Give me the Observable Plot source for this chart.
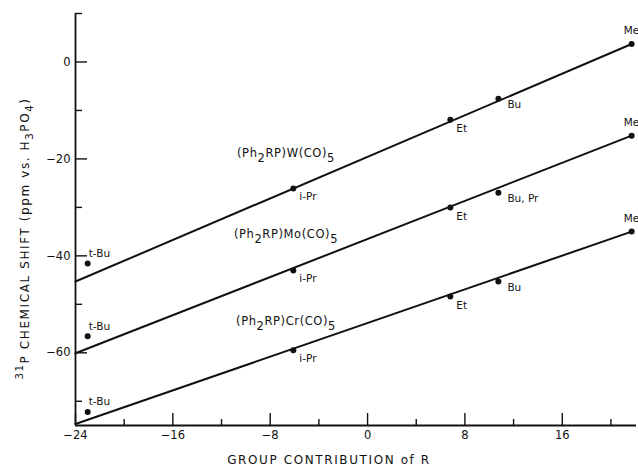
<!DOCTYPE html>
<html>
<head>
<meta charset="utf-8">
<script src="https://cdn.jsdelivr.net/npm/d3@7"></script>
<script src="https://cdn.jsdelivr.net/npm/@observablehq/plot@0.6"></script>
<style>
  html, body { margin: 0; padding: 0; background: #fff; }
  svg { overflow: visible; }
  .axlab text { letter-spacing: 1.6px; }
  .serlab text { letter-spacing: 0.6px; }
</style>
</head>
<body>
<div id="chart"></div>
<script>
// ---- data ----
const xMajorTicks = [-24, -16, -8, 0, 8, 16];
const xMinorTicks = [-20, -12, -4, 4, 12, 20];
const yMajorTicks = [-60, -40, -20, 0];
const yMinorTicks = [-70, -50, -30, -10, 10];

const groupContribution = [-23.0, -6.1, 6.8, 10.75, 21.7];
const shiftW  = [-41.6, -26.1, -11.9, -7.6, 3.7];
const shiftMo = [-56.6, -43.0, -30.0, -27.0, -15.2];
const shiftCr = [-72.2, -59.5, -48.4, -45.3, -35.0];

const labelsW  = ["t-Bu", "i-Pr", "Et", "Bu", "Me"];
const labelsMo = ["t-Bu", "i-Pr", "Et", "Bu, Pr", "Me"];
const labelsCr = ["t-Bu", "i-Pr", "Et", "Bu", "Me"];

const fitX  = [-24, 21.7];
const fitW  = [-45.3, 3.7];
const fitMo = [-60.1, -15.2];
const fitCr = [-74.7, -35.0];

const seriesNames = ["(Ph₂RP)W(CO)₅", "(Ph₂RP)Mo(CO)₅", "(Ph₂RP)Cr(CO)₅"];
const seriesLabelX = [-6.7, -6.7, -6.7];
const seriesLabelY = [-18.9, -35.6, -53.5];

const xTitle = "GROUP CONTRIBUTION of R";
const yTitle = "³¹P CHEMICAL SHIFT (ppm vs. H₃PO₄)";

// ---- tables ----
const series = [
  {name: "W", y: shiftW, labels: labelsW, fit: fitW},
  {name: "Mo", y: shiftMo, labels: labelsMo, fit: fitMo},
  {name: "Cr", y: shiftCr, labels: labelsCr, fit: fitCr}
];
const points = series.flatMap(s => groupContribution.map((x, i) => ({series: s.name, x, y: s.y[i], label: s.labels[i], i})));
const fits = series.flatMap(s => fitX.map((x, i) => ({series: s.name, x, y: s.fit[i]})));
const seriesLabels = seriesNames.map((t, i) => ({t, x: seriesLabelX[i], y: seriesLabelY[i]}));

// label offsets by ligand position
const offX = [1, 6, 6, 9, -8];
const offY = [-10, 8, 9, 6, -13];

const font = "DejaVu Sans, sans-serif";

// convert unicode sub/superscripts into shifted tspans
const SUB = ["₀","₁","₂","₃","₄","₅","₆","₇","₈","₉"];
const SUP = ["\u2070","\u00B9","\u00B2","\u00B3","\u2074","\u2075","\u2076","\u2077","\u2078","\u2079"];
function richify(textEl, subShift, supShift, scale) {
  const s = textEl.textContent;
  const segs = [];
  for (const ch of s) {
    let kind = "n", c = ch;
    if (SUB.includes(ch)) { kind = "sub"; c = String(SUB.indexOf(ch)); }
    else if (SUP.includes(ch)) { kind = "sup"; c = String(SUP.indexOf(ch)); }
    if (segs.length && segs[segs.length - 1].kind === kind) segs[segs.length - 1].t += c;
    else segs.push({kind, t: c});
  }
  const el = d3.select(textEl);
  el.text(null);
  for (const sg of segs) {
    const ts = el.append("tspan").text(sg.t);
    if (sg.kind === "sub") ts.attr("baseline-shift", -subShift).attr("font-size", (scale * 100) + "%");
    if (sg.kind === "sup") ts.attr("baseline-shift", supShift).attr("font-size", (scale * 100) + "%");
  }
}
function richRender(subShift, supShift, scale) {
  return function(index, scales, values, dims, context, next) {
    const g = next(index, scales, values, dims, context);
    d3.select(g).selectAll("text").each(function() { richify(this, subShift, supShift, scale); });
    return g;
  };
}

const chart = Plot.plot({
  width: 638,
  height: 471,
  marginLeft: 75,
  marginRight: 2,
  marginTop: 13,
  marginBottom: 46,
  style: {fontFamily: font, background: "#fff", color: "#111"},
  x: {domain: [-24, 22.1]},
  y: {domain: [-75, 10]},
  marks: [
    Plot.ruleX([-24], {stroke: "#111", strokeWidth: 1.8}),
    Plot.ruleY([-75], {stroke: "#111", strokeWidth: 1.8}),
    Plot.axisX(xMajorTicks, {tickSize: -12, tickPadding: 17, fontSize: 11.5, stroke: "#111", strokeWidth: 1.4, label: null}),
    Plot.axisX(xMinorTicks, {tickSize: -6, text: null, stroke: "#111", strokeWidth: 1.4, label: null}),
    Plot.axisY(yMajorTicks, {tickSize: -12, tickPadding: 17, fontSize: 11.5, stroke: "#111", strokeWidth: 1.4, label: null}),
    Plot.axisY(yMinorTicks, {tickSize: -7, text: null, stroke: "#111", strokeWidth: 1.4, label: null}),
    Plot.line(fits, {x: "x", y: "y", z: "series", stroke: "#111", strokeWidth: 2}),
    Plot.dot(points, {x: "x", y: "y", r: 3, fill: "#111"}),
    Plot.text(points, {x: "x", y: "y", text: "label", textAnchor: "start", fontSize: 10.5, fill: "#111",
      render(index, scales, values, dims, context, next) {
        const g = next(index, scales, values, dims, context);
        d3.select(g).selectAll("text").each(function(_, k) {
          const p = points[index[k]];
          const cur = d3.select(this).attr("transform") || "";
          d3.select(this).attr("transform", `translate(${offX[p.i]},${offY[p.i]}) ` + cur);
        });
        return g;
      }
    }),
    Plot.text(seriesLabels, {x: "x", y: "y", text: "t", fontSize: 11.5, fill: "#111", className: "serlab",
      render: richRender(5, 0, 1)}),
    Plot.text([xTitle], {frameAnchor: "bottom", textAnchor: "middle", dx: -27, dy: 38, fontSize: 12, fill: "#111", className: "axlab"}),
    Plot.text([yTitle], {frameAnchor: "left", textAnchor: "middle", dx: -50, dy: 19, rotate: -90, fontSize: 12, fill: "#111", className: "axlab",
      render: richRender(4, 6, 0.85)})
  ]
});
document.getElementById("chart").appendChild(chart);
</script>
</body>
</html>
